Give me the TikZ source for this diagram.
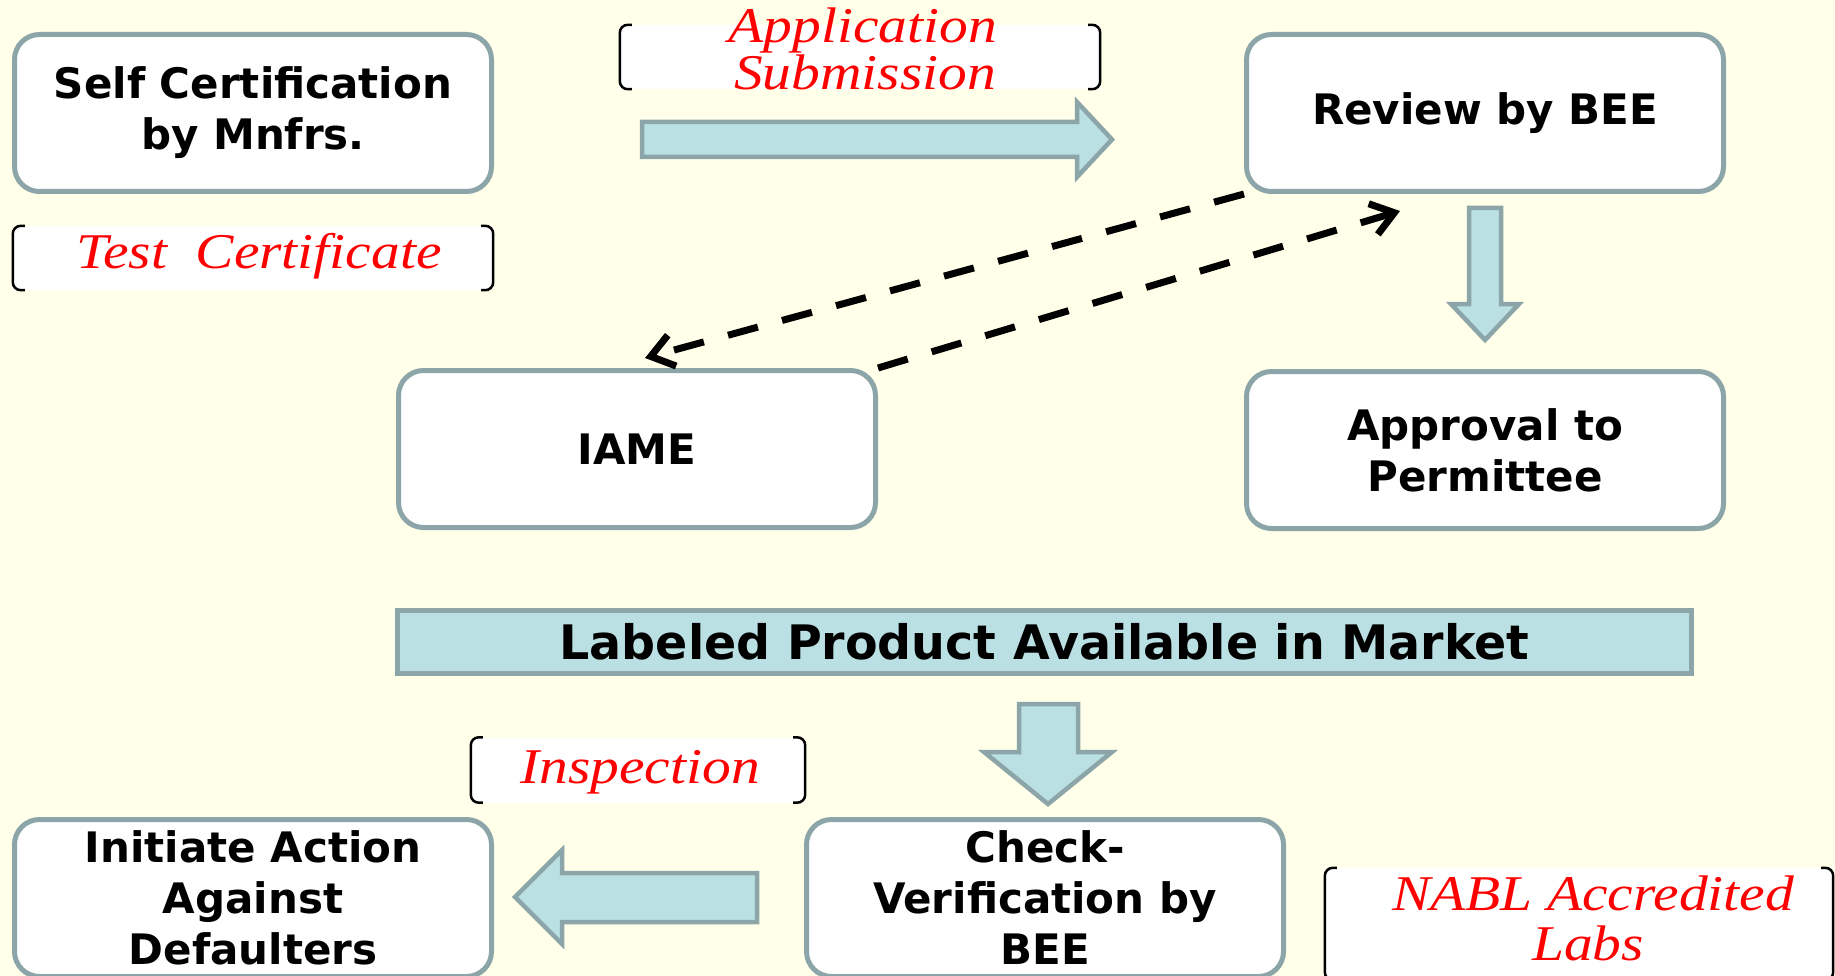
\documentclass[tikz,border=0pt]{standalone}
\usepackage{fontspec}
\usetikzlibrary{arrows.meta}
\newfontfamily\boxfont{DejaVu Sans}
\newfontfamily\redfont[FakeStretch=1.15]{Liberation Serif}
\definecolor{bgc}{HTML}{FFFFEA}
\definecolor{bdc}{HTML}{8CA5A8}
\definecolor{afc}{HTML}{BAE0E4}
\tikzset{
  box/.style={draw=bdc, line width=5pt, fill=white, rounded corners=25pt,
    minimum width=477pt, minimum height=157pt, inner sep=0pt, align=center,
    text=black, font=\boxfont\bfseries\fontsize{42}{51}\selectfont},
  bar/.style={draw=bdc, line width=5pt, fill=afc, minimum width=1294pt,
    minimum height=63pt, inner sep=0pt, text=black,
    font=\boxfont\bfseries\fontsize{47.5}{56}\selectfont},
  brkbox/.style={fill=white, inner sep=0pt},
  brkline/.style={draw=black, line width=2.5pt, rounded corners=8pt},
  redtxt/.style={text=red, inner sep=0pt, anchor=base,
    font=\redfont\itshape\fontsize{50}{50}\selectfont},
  blockarrow/.style={draw=bdc, fill=afc, line width=4.5pt, line join=miter},
  dasharrow/.style={draw=black, line width=7pt, dash pattern=on 31pt off 25pt,
    -{Straight Barb[length=22pt,width=32pt]}}
}
\newcommand\drawbrk[1]{%
  \draw[brkline] ([xshift=12pt]#1.north west) -- (#1.north west) -- (#1.south west) -- ([xshift=12pt]#1.south west);
  \draw[brkline] ([xshift=-12pt]#1.north east) -- (#1.north east) -- (#1.south east) -- ([xshift=-12pt]#1.south east);}
\begin{document}
\begin{tikzpicture}[x=1pt,y=-1pt]
\useasboundingbox (0,0) rectangle (1835,976);
\clip (0,0) rectangle (1835,976);
\fill[bgc] (0,0) rectangle (1835,976);

% main boxes
\node[box] (self) at (253,113) {Self Certification\\by Mnfrs.};
\node[box] (review) at (1485,113) {Review by BEE};
\node[box] (iame) at (637,449) {IAME};
\node[box] (approval) at (1485,450) {Approval to\\Permittee};
\node[bar] (market) at (1044.5,642) {Labeled Product Available in Market};
\node[box] (initiate) at (253,898) {Initiate Action\\Against\\Defaulters};
\node[box] (check) at (1045,898) {Check-\\Verification by\\BEE};

% bracketed labels
\node[brkbox, minimum width=480pt, minimum height=64pt] (appbox) at (860,57) {};
\drawbrk{appbox}
\node[redtxt] (app1) at (863,43) {Application};
\node[redtxt] (app2) at (865,90) {Submission};

\node[brkbox, minimum width=480pt, minimum height=64pt] (testbox) at (253,258) {};
\drawbrk{testbox}
\node[redtxt] (testtxt) at (259,269) {Test~~Certificate};

\node[brkbox, minimum width=334pt, minimum height=65pt] (inspbox) at (638,770) {};
\drawbrk{inspbox}
\node[redtxt] (insptxt) at (640,783) {Inspection};

\node[brkbox, minimum width=508pt, minimum height=112pt] (nablbox) at (1579,924) {};
\drawbrk{nablbox}
\node[redtxt] (nabl1) at (1593,910) {NABL Accredited};
\node[redtxt] (nabl2) at (1588,960) {Labs};

% block arrows
\draw[blockarrow] (642,122) -- (1077,122) -- (1077,102) -- (1112,139.5) -- (1077,177) -- (1077,157) -- (642,157) -- cycle;
\draw[blockarrow] (1469,208) -- (1501,208) -- (1501,304) -- (1519,304) -- (1485,340) -- (1451,304) -- (1469,304) -- cycle;
\draw[blockarrow] (1019,704) -- (1078,704) -- (1078,752) -- (1112,752) -- (1048,804) -- (984,752) -- (1019,752) -- cycle;
\draw[blockarrow] (757,873) -- (562,873) -- (562,850) -- (515,897) -- (562,944) -- (562,922) -- (757,922) -- cycle;

% dashed connectors
\coordinate (tipA) at (645,358);
\coordinate (tipB) at (1400,211);
\draw[dasharrow] (review.south west) -- (tipA);
\draw[dasharrow] (iame.north east) -- (tipB);
\end{tikzpicture}
\end{document}
